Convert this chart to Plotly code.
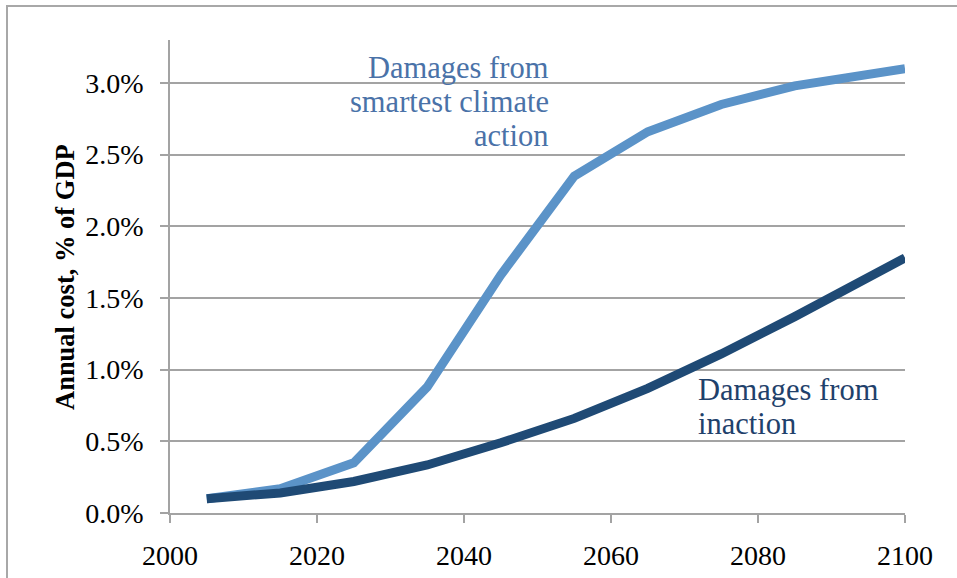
import plotly.graph_objects as go

years = [2005, 2015, 2025, 2035, 2045, 2055, 2065, 2075, 2085, 2095, 2100]
smart_action = [0.10, 0.17, 0.35, 0.88, 1.66, 2.35, 2.66, 2.85, 2.98, 3.07, 3.10]
inaction = [0.10, 0.14, 0.22, 0.335, 0.49, 0.66, 0.87, 1.11, 1.37, 1.64, 1.78]
x_ticks = [2000, 2020, 2040, 2060, 2080, 2100]
y_ticks = [0.0, 0.5, 1.0, 1.5, 2.0, 2.5, 3.0]
y_tick_labels = ["0.0%", "0.5%", "1.0%", "1.5%", "2.0%", "2.5%", "3.0%"]
smart_label = ["Damages from", "smartest climate", "action"]
inaction_label = ["Damages from", "inaction"]

FONT = "Liberation Serif"
LIGHT = "#5B93C8"
DARK = "#1F4A75"
GRID = "#A3A3A3"

L, T, PW, PH = 170, 40, 735, 473


def px_x(p):
    return (p - L) / PW


def px_y(p):
    return (T + PH - p) / PH


fig = go.Figure()
fig.add_trace(go.Scatter(x=years, y=smart_action, mode="lines",
                         line=dict(color=LIGHT, width=9), name="smart"))
fig.add_trace(go.Scatter(x=years, y=inaction, mode="lines",
                         line=dict(color=DARK, width=9), name="inaction"))

fig.update_layout(
    width=957, height=578,
    margin=dict(l=L, r=957 - L - PW, t=T, b=578 - T - PH),
    paper_bgcolor="white", plot_bgcolor="white",
    showlegend=False,
    font=dict(family=FONT, size=28, color="black"),
)
fig.update_xaxes(
    range=[2000, 2100], tickvals=x_ticks, showgrid=False,
    showline=True, linecolor=GRID, linewidth=1.5,
    ticks="outside", ticklen=8, tickcolor=GRID, tickwidth=1.5,
    tickfont=dict(family=FONT, size=28, color="black"),
    ticklabelstandoff=9, zeroline=False, automargin=False,
)
fig.update_yaxes(
    range=[0, 3.3], tickvals=y_ticks, ticktext=y_tick_labels,
    showgrid=True, gridcolor=GRID, gridwidth=1.5,
    showline=True, linecolor=GRID, linewidth=1.5,
    ticks="outside", ticklen=8, tickcolor=GRID, tickwidth=1.5,
    tickfont=dict(family=FONT, size=28, color="black"),
    ticklabelstandoff=11, zeroline=False, automargin=False,
)

fig.add_annotation(
    text="<b>Annual cost, % of GDP</b>", textangle=-90,
    xref="paper", yref="paper", x=px_x(65), y=px_y(277),
    xanchor="center", yanchor="middle", showarrow=False,
    font=dict(family=FONT, size=26.5, color="black"),
)
for i, line in enumerate(smart_label):
    fig.add_annotation(
        text=line, xref="paper", yref="paper",
        x=px_x(551), y=px_y(68 + 34 * i),
        xanchor="right", yanchor="middle", showarrow=False,
        font=dict(family=FONT, size=30.5, color="#4A72A8"),
    )
for i, line in enumerate(inaction_label):
    fig.add_annotation(
        text=line, xref="paper", yref="paper",
        x=px_x(696), y=px_y(390 + 34 * i),
        xanchor="left", yanchor="middle", showarrow=False,
        font=dict(family=FONT, size=30.5, color="#1F416B"),
    )
fig.add_shape(
    type="rect", xref="paper", yref="paper",
    x0=px_x(7), x1=2.0, y0=-1.0, y1=px_y(6),
    line=dict(color="#A8A8A8", width=2), layer="below",
)

fig.write_html("out.html", config={"displayModeBar": False},
               post_script="document.body.style.margin='0';")
